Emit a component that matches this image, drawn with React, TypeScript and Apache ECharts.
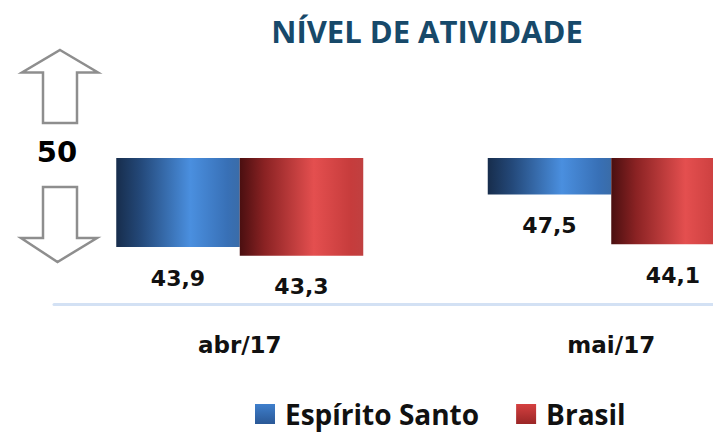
import React, { useEffect, useRef } from "react";
import * as echarts from "echarts";

const categories = ["abr/17", "mai/17"];
const espiritoSanto = [43.9, 47.5];
const brasil = [43.3, 44.1];
const baseline = 50;
const seriesNames = ["Espírito Santo", "Brasil"];
const titleText = "NÍVEL DE ATIVIDADE";
const baselineLabel = "50";

const fmt = (v: number) => v.toFixed(1).replace(".", ",");

const blueGrad = {
  type: "linear", x: 0, y: 0, x2: 1, y2: 0,
  colorStops: [
    { offset: 0, color: "#172d4c" },
    { offset: 0.2, color: "#24497a" },
    { offset: 0.6, color: "#4a8fdf" },
    { offset: 0.9, color: "#3870b6" },
    { offset: 1, color: "#3a6ca8" },
  ],
};
const redGrad = {
  type: "linear", x: 0, y: 0, x2: 1, y2: 0,
  colorStops: [
    { offset: 0, color: "#4a0f10" },
    { offset: 0.2, color: "#8a2223" },
    { offset: 0.6, color: "#e44f4f" },
    { offset: 0.9, color: "#c63c3c" },
    { offset: 1, color: "#c04040" },
  ],
};

export default function App() {
  const ref = useRef<HTMLDivElement>(null);
  useEffect(() => {
    if (!ref.current) return;
    const chart = echarts.init(ref.current, undefined, { renderer: "svg" });
    const labelStyle = {
      show: true,
      position: "bottom",
      distance: 20,
      fontFamily: "DejaVu Sans",
      fontWeight: "bold",
      fontSize: 22,
      color: "#111",
    };
    const barW = 123.5;
    chart.setOption({
      animation: false,
      backgroundColor: "#ffffff",
      grid: {
        left: 54,
        width: 743,
        top: 158,
        height: 146,
        containLabel: false,
        outerBoundsMode: "none",
      },
      xAxis: {
        type: "category",
        data: categories,
        axisLine: { show: true, lineStyle: { color: "#d3e1f4", width: 3 } },
        axisTick: { show: false },
        axisLabel: {
          margin: 29,
          fontFamily: "DejaVu Sans",
          fontWeight: "bold",
          fontSize: 23,
          color: "#111",
        },
      },
      yAxis: { type: "value", min: 40, max: 50, show: false, splitLine: { show: false } },
      legend: {
        data: [
          {
            name: seriesNames[0],
            itemStyle: {
              color: { type: "linear", x: 0, y: 0, x2: 0, y2: 1, colorStops: [
                { offset: 0, color: "#3f7fcc" }, { offset: 1, color: "#2a5896" } ] },
            },
          },
          {
            name: seriesNames[1],
            itemStyle: {
              color: { type: "linear", x: 0, y: 0, x2: 0, y2: 1, colorStops: [
                { offset: 0, color: "#d54040" }, { offset: 1, color: "#9a2626" } ] },
            },
          },
        ],
        left: 255,
        top: 400,
        padding: 0,
        icon: "rect",
        itemWidth: 20,
        itemHeight: 20,
        itemGap: 37,
        textStyle: {
          fontFamily: "Open Sans",
          fontWeight: "bold",
          fontSize: 28,
          color: "#111",
          padding: [0, 0, 0, 5],
        },
      },
      graphic: [
        {
          type: "text",
          x: 427,
          y: 31,
          style: {
            text: titleText,
            fontFamily: "Open Sans",
            fontWeight: "bold",
            fontSize: 31,
            fill: "#17496a",
            textAlign: "center",
            textVerticalAlign: "middle",
          },
        },
        {
          type: "polygon",
          shape: {
            points: [
              [60, 50], [98, 72.5], [77, 72.5], [77, 123], [43, 123], [43, 72.5], [22, 72.5],
            ],
          },
          style: { fill: "#ffffff", stroke: "#8e8e8e", lineWidth: 2.5 },
        },
        {
          type: "polygon",
          shape: {
            points: [
              [43, 187], [77, 187], [77, 238], [97, 238], [57.5, 262], [21, 238], [43, 238],
            ],
          },
          style: { fill: "#ffffff", stroke: "#8e8e8e", lineWidth: 2.5 },
        },
        {
          type: "text",
          x: 57,
          y: 152,
          style: {
            text: baselineLabel,
            fontFamily: "DejaVu Sans",
            fontWeight: "bold",
            fontSize: 29,
            fill: "#000",
            textAlign: "center",
            textVerticalAlign: "middle",
          },
        },
      ],
      series: [
        {
          name: "esBase",
          type: "bar",
          stack: "es",
          barWidth: barW,
          barGap: "0%",
          itemStyle: { color: "transparent" },
          silent: true,
          data: espiritoSanto,
        },
        {
          name: seriesNames[0],
          type: "bar",
          stack: "es",
          barWidth: barW,
          barGap: "0%",
          itemStyle: { color: blueGrad },
          label: { ...labelStyle, formatter: (p: any) => fmt(espiritoSanto[p.dataIndex]) },
          data: espiritoSanto.map((v) => +(baseline - v).toFixed(2)),
        },
        {
          name: "brBase",
          type: "bar",
          stack: "br",
          barWidth: barW,
          barGap: "0%",
          itemStyle: { color: "transparent" },
          silent: true,
          data: brasil,
        },
        {
          name: seriesNames[1],
          type: "bar",
          stack: "br",
          barWidth: barW,
          barGap: "0%",
          itemStyle: { color: redGrad },
          label: { ...labelStyle, formatter: (p: any) => fmt(brasil[p.dataIndex]) },
          data: brasil.map((v) => +(baseline - v).toFixed(2)),
        },
      ],
    });
    return () => chart.dispose();
  }, []);
  return (
    <div
      ref={ref}
      style={{ position: "fixed", left: 0, top: 0, width: 713, height: 432 }}
    />
  );
}
